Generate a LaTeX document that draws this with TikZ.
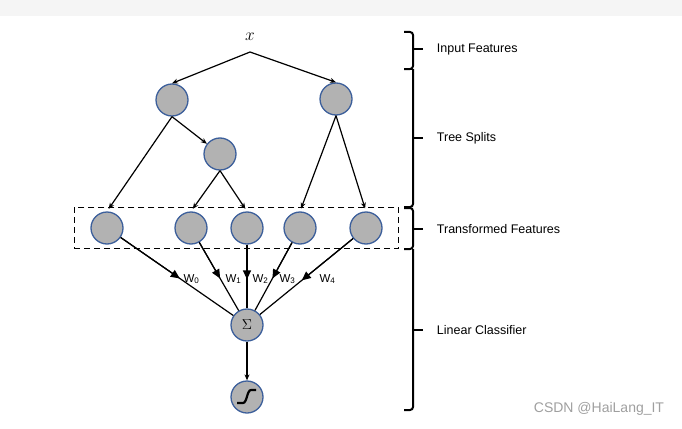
\documentclass[tikz,border=0pt]{standalone}
\usepackage{fontspec}
\setmainfont{Liberation Sans}
\usetikzlibrary{arrows.meta}
\usetikzlibrary{positioning}
\usetikzlibrary{calc,fit}
\definecolor{nodegray}{RGB}{178,178,178}
\definecolor{nodeblue}{RGB}{60,95,155}
\definecolor{topgray}{RGB}{245,245,245}
\tikzset{
    every node/.style={font=\fontsize{12.5}{15}\selectfont},
    main node/.style={circle,draw=nodeblue,fill=nodegray,line width=1.3pt,minimum size=32pt,inner sep=0pt},
    dashed box/.style={draw,dash pattern=on 6pt off 4pt,line width=1.3pt,inner xsep=16pt,inner ysep=4pt},
    tree edge/.style={-{Stealth[length=6pt,width=5pt]}},
    weight edge/.style={-{Triangle[length=9pt,width=8pt]}},
    weight label/.style={anchor=west,inner sep=0pt,font=\fontsize{11.5}{13}\selectfont},
    layer brace/.style={line width=2pt,rounded corners=3pt},
    layer label/.style={anchor=west}
}

\begin{document}
\begin{tikzpicture}[x=1pt,y=-1pt,line width=1.2pt]

    \fill[topgray] (0,0) rectangle (682,16);
    \useasboundingbox (0,0) rectangle (682,428);

    % input
    \node[font=\fontsize{16}{18}\selectfont] (x) at (250,37) {$x$};
    \coordinate (split) at (250,52);

    % tree splits
    \node[main node] (r1) at (172,100) {};
    \node[main node] (r2) at (336,99) {};
    \node[main node] (m1) at (220,154) {};

    % transformed features
    \node[main node] (f0) at (107,228) {};
    \node[main node] (f1) at (191,228) {};
    \node[main node] (f2) at (247,228) {};
    \node[main node] (f3) at (300,228) {};
    \node[main node] (f4) at (366,228) {};
    \node[dashed box, fit=(f0)(f4)] (box) {};

    % linear classifier
    \node[main node,font=\fontsize{15}{17}\selectfont] (sum) at (247,325) {$\Sigma$};
    \node[main node] (act) at (247,397) {};
    \draw[line width=2.2pt] ($(act)+(-10,6)$) -- ($(act)+(-4,6)$)
        .. controls ($(act)+(0,6)$) and ($(act)+(0,-7)$) .. ($(act)+(4,-7)$) -- ($(act)+(9,-7)$);

    \draw[tree edge] (split) -- (r1.north);
    \draw[tree edge] (split) -- (r2.north);

    \draw[tree edge,shorten >=3pt] (r1.south) -- (f0.north);
    \draw[tree edge] (r1.south) -- (m1);
    \draw[tree edge,shorten >=3pt] (m1.south) -- (f1.north);
    \draw[tree edge,shorten >=3pt] (m1.south) -- (f2.north);
    \draw[tree edge,shorten >=3pt] (r2.south) -- (f3.north);
    \draw[tree edge,shorten >=3pt] (r2.south) -- (f4.north);

    % weights, arrow half way
    \coordinate (a0) at ($(f0)!0.52!(sum)$);
    \coordinate (a1) at ($(f1)!0.52!(sum)$);
    \coordinate (a2) at ($(f2)!0.53!(sum)$);
    \coordinate (a3) at ($(f3)!0.52!(sum)$);
    \coordinate (a4) at ($(f4)!0.54!(sum)$);
    \draw (f0) -- (sum);
    \draw (f1) -- (sum);
    \draw (f2) -- (sum);
    \draw (f3) -- (sum);
    \draw (f4) -- (sum);
    \draw[weight edge] (f0) -- (a0);
    \draw[weight edge] (f1) -- (a1);
    \draw[weight edge] (f2) -- (a2);
    \draw[weight edge] (f3) -- (a3);
    \draw[weight edge] (f4) -- (a4);

    \node[weight label] (w0) at (183,279) {W\textsubscript{0}};
    \node[weight label] (w1) at (225,279) {W\textsubscript{1}};
    \node[weight label] (w2) at (252,279) {W\textsubscript{2}};
    \node[weight label] (w3) at (279,279) {W\textsubscript{3}};
    \node[weight label] (w4) at (319,279) {W\textsubscript{4}};

    \draw[tree edge] (sum) -- (act);

    % braces
    \draw[layer brace] (404,32) -- (413,32) -- (413,69) -- (404,69);
    \draw[layer brace] (413,69) -- (413,207) -- (404,207);
    \draw[layer brace] (404,69) -- (413,69);
    \draw[layer brace] (404,208) -- (413,208) -- (413,249) -- (404,249);
    \draw[layer brace] (413,249) -- (413,410) -- (404,410);
    \coordinate (t1) at (423,49);
    \coordinate (t2) at (423,138);
    \coordinate (t3) at (423,229);
    \coordinate (t4) at (423,330);
    \draw[layer brace] (413,49) -- (t1);
    \draw[layer brace] (413,138) -- (t2);
    \draw[layer brace] (413,229) -- (t3);
    \draw[layer brace] (413,330) -- (t4);

    \node[layer label, right=10pt of t1] (l1) {Input Features};
    \node[layer label, right=10pt of t2] (l2) {Tree Splits};
    \node[layer label, right=10pt of t3] (l3) {Transformed Features};
    \node[layer label, right=10pt of t4] (l4) {Linear Classifier};

    \node[text=gray!75,font=\fontsize{14}{16}\selectfont] (wm) at (599,409) {CSDN @HaiLang\_IT};

\end{tikzpicture}
\end{document}
